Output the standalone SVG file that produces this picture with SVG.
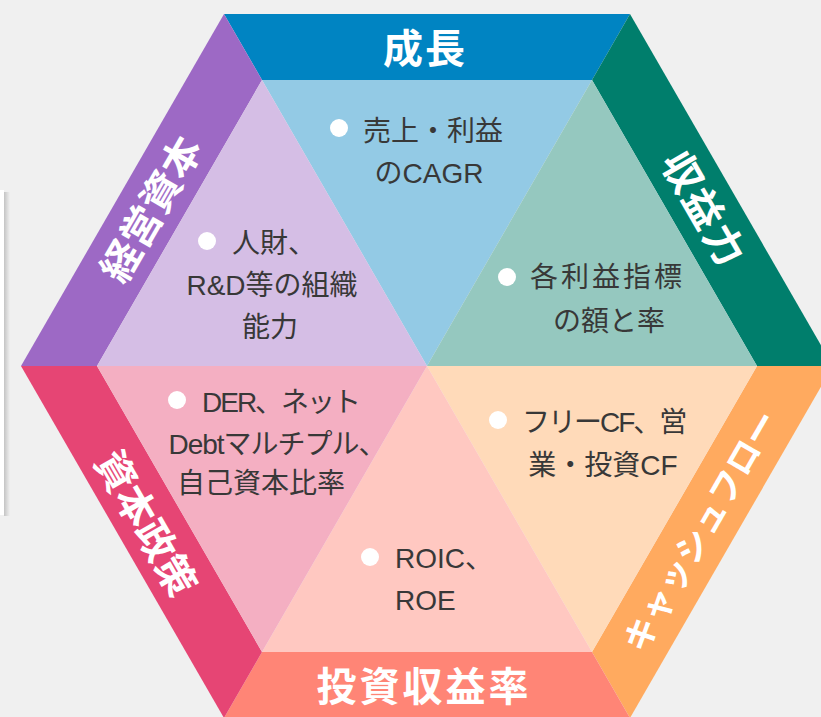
<svg xmlns="http://www.w3.org/2000/svg" width="821" height="717" viewBox="0 0 821 717">
<defs>
<style>
.band-title{font-family:"Noto Sans CJK JP","Noto Sans",sans-serif;font-weight:700;fill:#FFFFFF;text-anchor:middle;dominant-baseline:central}
.body{font-family:"Liberation Sans","Noto Sans CJK JP",sans-serif;font-size:28px;fill:#383838}
.mid{text-anchor:middle}
.bullet{fill:#FFFFFF}
</style>
<linearGradient id="shadow" x1="0" y1="0" x2="1" y2="0">
<stop offset="0" stop-color="#C4C4C4"/>
<stop offset="1" stop-color="#F0F0F0"/>
</linearGradient>
</defs>
<rect x="0" y="0" width="821" height="717" fill="#F0F0F0"/>
<g id="side-panel">
<rect x="4" y="192" width="6" height="324" fill="url(#shadow)"/>
<rect x="-10" y="190" width="14" height="325" fill="#FFFFFF"/>
</g>

<g id="seg-growth">
<polygon points="224,14 630,14 592,80 262,80" fill="#0084C2"/>
<polygon points="262,80 592,80 427,366" fill="#93CAE5"/>
<text class="band-title" x="425" y="46" font-size="40" letter-spacing="2">成長</text>
<circle class="bullet" cx="339" cy="128" r="9"/>
<text class="body" x="363" y="141">売上・利益</text>
<text class="body mid" x="429" y="183">のCAGR</text>
</g>

<g id="seg-profitability">
<polygon points="630,14 833,366 757,366 592,80" fill="#007E6C"/>
<polygon points="592,80 757,366 427,366" fill="#95C8BF"/>
<text class="band-title" x="0" y="0" font-size="40" letter-spacing="2" transform="translate(706,208) rotate(60)">収益力</text>
<circle class="bullet" cx="507" cy="277" r="9"/>
<text class="body" x="530" y="287" letter-spacing="3">各利益指標</text>
<text class="body mid" x="609" y="331">の額と率</text>
</g>

<g id="seg-cashflow">
<polygon points="833,366 630,718 592,652 757,366" fill="#FFAA5F"/>
<polygon points="757,366 592,652 427,366" fill="#FFDAB9"/>
<text class="band-title" x="0" y="0" font-size="34" transform="translate(699,530) rotate(-60)">キャッシュフロー</text>
<circle class="bullet" cx="498" cy="420" r="9"/>
<text class="body" x="522" y="432" letter-spacing="-2">フリーCF、営</text>
<text class="body mid" x="603" y="475">業・投資CF</text>
</g>

<g id="seg-return">
<polygon points="630,718 224,718 262,652 592,652" fill="#FF8576"/>
<polygon points="592,652 262,652 427,366" fill="#FFC8C1"/>
<text class="band-title" x="424" y="684" font-size="40" letter-spacing="3">投資収益率</text>
<circle class="bullet" cx="370" cy="557" r="9"/>
<text class="body" x="395" y="568">ROIC、</text>
<text class="body" x="395" y="610">ROE</text>
</g>

<g id="seg-capital-policy">
<polygon points="224,718 21,366 97,366 262,652" fill="#E64574"/>
<polygon points="262,652 97,366 427,366" fill="#F4AFC2"/>
<text class="band-title" x="0" y="0" font-size="40" transform="translate(148,522) rotate(60)">資本政策</text>
<circle class="bullet" cx="177" cy="400" r="9"/>
<text class="body" x="202" y="412" letter-spacing="-2">DER、ネット</text>
<text class="body mid" x="277" y="454" letter-spacing="-1">Debtマルチプル、</text>
<text class="body mid" x="261" y="493">自己資本比率</text>
</g>

<g id="seg-management-capital">
<polygon points="21,366 224,14 262,80 97,366" fill="#9D69C5"/>
<polygon points="97,366 262,80 427,366" fill="#D5BEE5"/>
<text class="band-title" x="0" y="0" font-size="40" transform="translate(149,208) rotate(-60)">経営資本</text>
<circle class="bullet" cx="207" cy="241" r="9"/>
<text class="body" x="232" y="253">人財、</text>
<text class="body mid" x="272" y="295">R&amp;D等の組織</text>
<text class="body mid" x="270" y="337">能力</text>
</g>

<g id="connectors"></g>
</svg>
